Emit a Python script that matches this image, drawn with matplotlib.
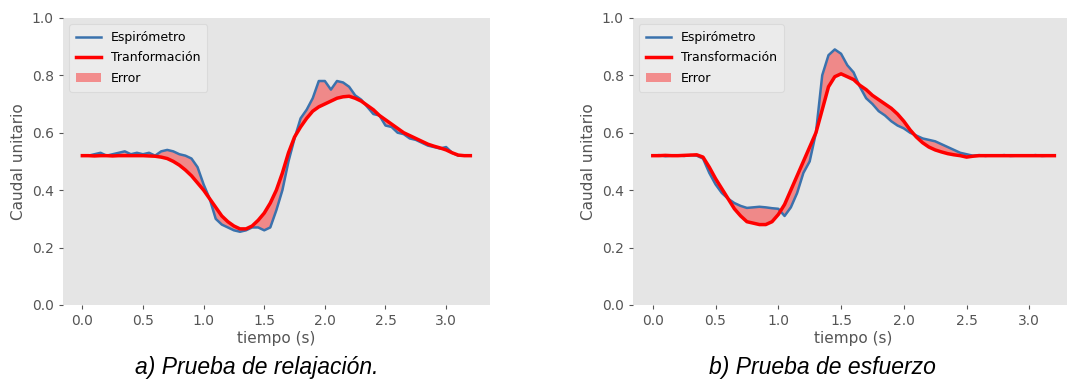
import numpy as np
import matplotlib
matplotlib.use("Agg")
import matplotlib.pyplot as plt

# ---------------- data ----------------
t = [round(0.05 * i, 2) for i in range(65)]  # 0.00 .. 3.20 s

esp_a = [0.520, 0.520, 0.525, 0.530, 0.520, 0.525, 0.530, 0.535, 0.525, 0.530,
         0.525, 0.530, 0.520, 0.535, 0.540, 0.535, 0.525, 0.520, 0.510, 0.480,
         0.420, 0.370, 0.300, 0.280, 0.270, 0.260, 0.255, 0.260, 0.270, 0.270,
         0.260, 0.270, 0.330, 0.400, 0.500, 0.580, 0.650, 0.680, 0.720, 0.780,
         0.780, 0.750, 0.780, 0.775, 0.760, 0.730, 0.715, 0.690, 0.665, 0.660,
         0.625, 0.620, 0.600, 0.595, 0.580, 0.575, 0.565, 0.555, 0.550, 0.545,
         0.550, 0.530, 0.520, 0.520, 0.520]
tra_a = [0.520, 0.520, 0.519, 0.520, 0.520, 0.519, 0.520, 0.520, 0.520, 0.520,
         0.520, 0.519, 0.518, 0.515, 0.510, 0.500, 0.487, 0.470, 0.450, 0.425,
         0.400, 0.370, 0.340, 0.310, 0.290, 0.275, 0.265, 0.265, 0.275, 0.295,
         0.320, 0.355, 0.400, 0.460, 0.530, 0.585, 0.620, 0.650, 0.675, 0.690,
         0.700, 0.710, 0.720, 0.725, 0.727, 0.720, 0.710, 0.695, 0.680, 0.660,
         0.645, 0.630, 0.615, 0.600, 0.590, 0.580, 0.570, 0.560, 0.553, 0.547,
         0.540, 0.530, 0.522, 0.520, 0.520]

esp_b = [0.520, 0.522, 0.518, 0.520, 0.521, 0.519, 0.522, 0.520, 0.510, 0.460,
         0.420, 0.390, 0.370, 0.355, 0.345, 0.338, 0.340, 0.342, 0.340, 0.337,
         0.335, 0.310, 0.340, 0.390, 0.460, 0.500, 0.600, 0.800, 0.870, 0.890,
         0.875, 0.835, 0.810, 0.760, 0.720, 0.700, 0.675, 0.660, 0.640, 0.625,
         0.615, 0.600, 0.590, 0.580, 0.575, 0.570, 0.560, 0.550, 0.540, 0.530,
         0.525, 0.520, 0.522, 0.519, 0.521, 0.520, 0.522, 0.519, 0.520, 0.521,
         0.520, 0.522, 0.519, 0.520, 0.521]
tra_b = [0.520, 0.520, 0.521, 0.520, 0.520, 0.521, 0.522, 0.523, 0.515, 0.480,
         0.440, 0.405, 0.370, 0.335, 0.310, 0.290, 0.285, 0.280, 0.280, 0.290,
         0.315, 0.350, 0.400, 0.450, 0.500, 0.550, 0.600, 0.680, 0.760, 0.795,
         0.805, 0.795, 0.785, 0.765, 0.750, 0.730, 0.715, 0.700, 0.685, 0.665,
         0.640, 0.610, 0.585, 0.565, 0.550, 0.540, 0.533, 0.527, 0.523, 0.520,
         0.515, 0.518, 0.520, 0.520, 0.520, 0.520, 0.520, 0.520, 0.520, 0.520,
         0.520, 0.520, 0.520, 0.520, 0.520]

panels = [
    (esp_a, tra_a, "Tranformación", "a) Prueba de relajación."),
    (esp_b, tra_b, "Transformación", "b) Prueba de esfuerzo"),
]

# ---------------- style ----------------
BG = "#E5E5E5"
TXT = "#555555"
BLUE = "#3a72ad"

fig = plt.figure(figsize=(10.67, 3.88), dpi=100)
axes_rects = [[0.059, 0.214, 0.400, 0.740], [0.593, 0.214, 0.414, 0.740]]
caption_x = [0.241, 0.771]

for rect, (esp, tra, lab, cap), cx in zip(axes_rects, panels, caption_x):
    ax = fig.add_axes(rect)
    ax.set_facecolor(BG)
    for s in ax.spines.values():
        s.set_visible(False)
    ax.plot(t, esp, color=BLUE, lw=1.8, label="Espirómetro", zorder=3)
    ax.plot(t, tra, color="red", lw=2.5, label=lab, zorder=4)
    ax.fill_between(t, esp, tra, color="red", alpha=0.4, lw=0, label="Error", zorder=2)
    ax.set_ylim(0, 1.0)
    ax.set_xlim(-0.16, 3.36)
    ax.set_xticks([0.0, 0.5, 1.0, 1.5, 2.0, 2.5, 3.0])
    ax.set_yticks([0.0, 0.2, 0.4, 0.6, 0.8, 1.0])
    ax.tick_params(colors=TXT, labelsize=10, length=3, width=0.8, direction="out")
    ax.set_xlabel("tiempo (s)", color=TXT, fontsize=11, labelpad=2)
    ax.set_ylabel("Caudal unitario", color=TXT, fontsize=11)
    leg = ax.legend(loc="upper left", fontsize=9, frameon=True,
                    facecolor="#EBEBEB", edgecolor="#DADADA", framealpha=1,
                    handlelength=2.0, borderpad=0.55, labelspacing=0.6)
    leg.get_frame().set_linewidth(0.8)
    fig.text(cx, 0.054, cap, ha="center", va="center", fontsize=16.5,
             style="italic", family="Liberation Sans", color="black")

fig.savefig("out.png", dpi=100)
